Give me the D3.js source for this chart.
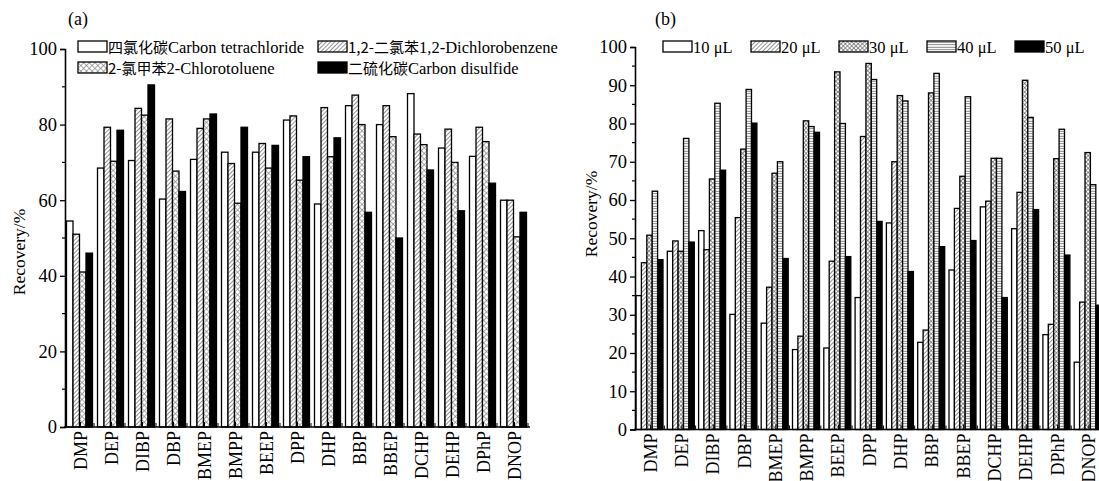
<!DOCTYPE html>
<html>
<head>
<meta charset="utf-8">
<script src="https://cdn.jsdelivr.net/npm/d3@7"></script>
<style>
  body { margin: 0; background: #fff; }
  svg { display: block; }
  text { font-family: "Liberation Serif", "Times New Roman", serif; fill: #000; }
  .cjk { font-family: "Noto Sans CJK SC", sans-serif; }
</style>
</head>
<body>
<svg id="chart" width="1099" height="481"></svg>
<script>
// compounds on the x axis, shared by both panels
var compounds = ["DMP", "DEP", "DIBP", "DBP", "BMEP", "BMPP", "BEEP", "DPP", "DHP", "BBP", "BBEP", "DCHP", "DEHP", "DPhP", "DNOP"]

// (a) extraction solvent
var solventZh = ["四氯化碳", "1,2-二氯苯", "2-氯甲苯", "二硫化碳"]
var solventEn = ["Carbon tetrachloride", "1,2-Dichlorobenzene", "2-Chlorotoluene", "Carbon disulfide"]
var carbonTetrachloride = [54.5, 68.5, 70.5, 60.3, 70.8, 72.7, 72.7, 81.2, 59.0, 85.0, 80.0, 88.2, 73.8, 71.6, 60.0]
var dichlorobenzene     = [51.0, 79.3, 84.3, 81.5, 79.0, 69.7, 75.0, 82.3, 84.5, 87.8, 85.0, 77.5, 78.8, 79.3, 60.0]
var chlorotoluene       = [41.0, 70.3, 82.5, 67.7, 81.5, 59.2, 68.5, 65.3, 71.5, 80.0, 76.8, 74.7, 70.0, 75.5, 50.3]
var carbonDisulfide     = [46.0, 78.5, 90.5, 62.3, 82.8, 79.3, 74.5, 71.5, 76.5, 56.8, 50.0, 68.0, 57.2, 64.5, 56.8]

// (b) extraction solvent volume
var volumes = ["10 μL", "20 μL", "30 μL", "40 μL", "50 μL"]
var vol10 = [35.0, 46.6, 52.0, 30.1, 27.8, 20.9, 21.3, 34.5, 54.0, 22.8, 41.7, 58.2, 52.5, 24.8, 17.6]
var vol20 = [43.6, 49.3, 47.0, 55.4, 37.2, 24.4, 44.0, 76.6, 70.0, 26.0, 57.8, 59.7, 62.0, 27.5, 33.3]
var vol30 = [50.8, 46.6, 65.5, 73.3, 67.0, 80.7, 93.5, 95.7, 87.3, 88.0, 66.2, 70.9, 91.3, 70.8, 72.4]
var vol40 = [62.3, 76.1, 85.3, 88.9, 70.0, 79.2, 80.0, 91.5, 85.9, 93.1, 87.0, 70.9, 81.6, 78.5, 64.0]
var vol50 = [44.4, 49.0, 67.8, 80.1, 44.7, 77.7, 45.2, 54.4, 41.3, 47.8, 49.4, 34.5, 57.5, 45.6, 32.5]

var yTicksA = [0, 20, 40, 60, 80, 100]
var yMinorA = [10, 30, 50, 70, 90]
var yTicksB = [0, 10, 20, 30, 40, 50, 60, 70, 80, 90, 100]
var yMinorB = [5, 15, 25, 35, 45, 55, 65, 75, 85, 95]

var svg = d3.select("#chart")
var defs = svg.append("defs")

// fill patterns
function linePattern(id, size, rotate, paths, color, width) {
  var p = defs.append("pattern")
      .attr("id", id)
      .attr("patternUnits", "userSpaceOnUse")
      .attr("width", size)
      .attr("height", size)
  if (rotate) p.attr("patternTransform", "rotate(" + rotate + ")")
  p.append("rect").attr("width", size).attr("height", size).attr("fill", "#fff")
  paths.forEach(function(d) {
    p.append("path").attr("d", d).attr("stroke", color).attr("stroke-width", width).attr("fill", "none")
  })
}
linePattern("diag", 3, 45, ["M0.5,0V3"], "#777", 0.8)
linePattern("cross", 4, 45, ["M0.5,0V4", "M0,0.5H4"], "#888", 0.7)
linePattern("crossDense", 3, 45, ["M0.5,0V3", "M0,0.5H3"], "#666", 0.7)
linePattern("horiz", 2.5, 0, ["M0,1.2H2.5"], "#666", 0.8)

var fillsA = ["#fff", "url(#diag)", "url(#cross)", "#000"]
var fillsB = ["#fff", "url(#diag)", "url(#crossDense)", "url(#horiz)", "#000"]

function drawPanel(cfg) {
  var g = svg.append("g")

  var x = d3.scaleBand().domain(compounds).range(cfg.xRange)
  var sub = d3.scaleBand().domain(d3.range(cfg.series.length)).range(cfg.subRange)
  var y = d3.scaleLinear().domain([0, 100]).range(cfg.yRange)

  // bars
  cfg.series.forEach(function(values, s) {
    g.append("g").selectAll("rect")
      .data(values)
      .join("rect")
        .attr("x", function(d, i) { return x(compounds[i]) + sub(s) })
        .attr("y", function(d) { return y(d) })
        .attr("width", sub.bandwidth())
        .attr("height", function(d) { return y(0) - y(d) })
        .attr("fill", cfg.fills[s])
        .attr("stroke", "#000")
        .attr("stroke-width", 1.3)
  })

  // y axis
  var yAxis = d3.axisLeft(y).tickValues(cfg.yTicks).tickSize(5).tickPadding(3)
  var ya = g.append("g")
      .attr("transform", "translate(" + cfg.xRange[0] + ",0)")
      .call(yAxis)
  ya.select(".domain").attr("stroke-width", 1.6)
  ya.selectAll(".tick line").attr("stroke-width", 1.3)
  ya.selectAll(".tick text")
      .style("font-family", "'Liberation Serif', serif")
      .style("font-size", "18.5px")
  g.append("g").selectAll("line")
    .data(cfg.yMinor)
    .join("line")
      .attr("x1", cfg.xRange[0] - 3).attr("x2", cfg.xRange[0])
      .attr("y1", function(d) { return y(d) }).attr("y2", function(d) { return y(d) })
      .attr("stroke", "#000").attr("stroke-width", 1.2)

  // x axis
  var xa = g.append("g").attr("transform", "translate(0," + y(0) + ")")
  xa.append("line")
      .attr("x1", cfg.xRange[0] - 1).attr("x2", cfg.xRange[1])
      .attr("stroke", "#000").attr("stroke-width", 1.6)
  xa.selectAll(".minor")
    .data(compounds)
    .join("line")
      .attr("class", "minor")
      .attr("x1", function(d) { return x(d) + x.bandwidth() - 2 })
      .attr("x2", function(d) { return x(d) + x.bandwidth() - 2 })
      .attr("y1", 0).attr("y2", -4)
      .attr("stroke", "#000").attr("stroke-width", 1)
  xa.selectAll(".major")
    .data(compounds)
    .join("line")
      .attr("class", "major")
      .attr("x1", function(d) { return x(d) + x.bandwidth() / 2 })
      .attr("x2", function(d) { return x(d) + x.bandwidth() / 2 })
      .attr("y1", 0).attr("y2", -5)
      .attr("stroke", "#000").attr("stroke-width", 1)
  xa.selectAll("text")
    .data(compounds)
    .join("text")
      .attr("transform", function(d) { return "translate(" + (x(d) + x.bandwidth() / 2 + 6) + ",4) rotate(-90)" })
      .attr("text-anchor", "end")
      .style("font-size", "18px")
      .text(function(d) { return d })

  // titles
  g.append("text")
      .attr("transform", "translate(" + cfg.titleX + "," + cfg.titleY + ") rotate(-90)")
      .attr("text-anchor", "middle")
      .style("font-size", "17.5px")
      .text("Recovery/%")
  g.append("text")
      .attr("x", cfg.labelX).attr("y", 25)
      .style("font-size", "18px")
      .text(cfg.label)

  // legend
  var lg = g.append("g").selectAll("g")
    .data(cfg.legend)
    .join("g")
      .attr("transform", function(d) { return "translate(" + d.x + "," + d.y + ")" })
  lg.append("rect")
      .attr("width", 29).attr("height", 11)
      .attr("fill", function(d) { return d.fill })
      .attr("stroke", "#000").attr("stroke-width", 1.3)
  var lt = lg.append("text")
      .attr("x", 30).attr("y", 11.5)
      .style("font-size", "16.5px")
  lt.append("tspan").attr("class", "cjk").style("font-size", "15px").text(function(d) { return d.zh || "" })
  lt.append("tspan").text(function(d) { return d.en })
}

drawPanel({
  series: [carbonTetrachloride, dichlorobenzene, chlorotoluene, carbonDisulfide],
  fills: fillsA,
  xRange: [65, 530],
  subRange: [1.5, 27.5],
  yRange: [427, 49],
  yTicks: yTicksA,
  yMinor: yMinorA,
  titleX: 25, titleY: 252,
  label: "(a)", labelX: 68,
  legend: [
    {x: 78, y: 41, fill: fillsA[0], zh: solventZh[0], en: solventEn[0]},
    {x: 318, y: 41, fill: fillsA[1], zh: solventZh[1], en: solventEn[1]},
    {x: 78, y: 62, fill: fillsA[2], zh: solventZh[2], en: solventEn[2]},
    {x: 318, y: 62, fill: fillsA[3], zh: solventZh[3], en: solventEn[3]}
  ]
})

drawPanel({
  series: [vol10, vol20, vol30, vol40, vol50],
  fills: fillsB,
  xRange: [635, 635 + 15 * 31.3],
  subRange: [1, 28],
  yRange: [429.5, 47],
  yTicks: yTicksB,
  yMinor: yMinorB,
  titleX: 597, titleY: 214,
  label: "(b)", labelX: 655,
  legend: volumes.map(function(v, i) {
    return {x: 663 + i * 88, y: 41, fill: fillsB[i], en: v}
  })
})
</script>
</body>
</html>
